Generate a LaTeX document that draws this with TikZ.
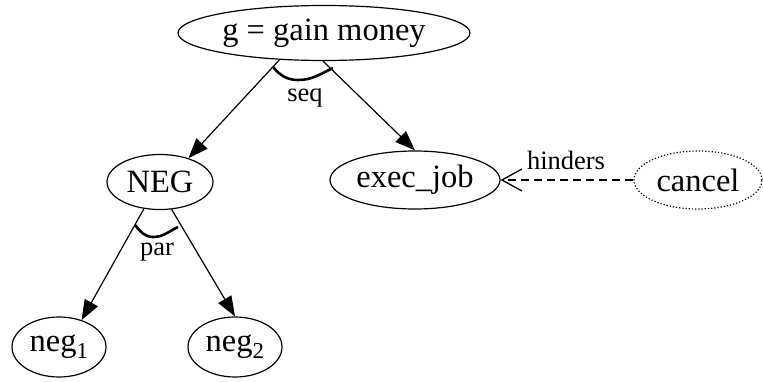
\documentclass[tikz,border=0pt]{standalone}
\usepackage{fontspec}
\setmainfont{Liberation Serif}
\usetikzlibrary{shapes.geometric,arrows.meta}
\begin{document}
\begin{tikzpicture}[x=1pt,y=-1pt,
  goal/.style={ellipse,draw,line width=1.2pt,inner sep=0pt,font=\fontsize{32.5}{32.5}\selectfont},
  lbl/.style={inner sep=0pt,font=\fontsize{26.5}{26.5}\selectfont},
  edge/.style={line width=1.2pt,-{Triangle[length=20pt,width=15pt]}},
  arcmark/.style={line width=2.6pt}]
\useasboundingbox (0,0) rectangle (763,382);
\node[goal,minimum width=292pt,minimum height=55pt] (g) at (324,33) {g = gain money};
\node[goal,minimum width=106pt,minimum height=55pt] (NEG) at (160,182) {NEG};
\node[goal,minimum width=170pt,minimum height=58pt] (exec) at (415,180) {exec\_job};
\node[goal,dotted,minimum width=128pt,minimum height=58pt] (cancel) at (698,180) {cancel};
\node[goal,minimum width=94pt,minimum height=60pt] (neg1) at (59,347) {neg\textsubscript{1}};
\node[goal,minimum width=94pt,minimum height=60pt] (neg2) at (235,347) {neg\textsubscript{2}};
\draw[edge] (g.211) -- (NEG.40);
\draw[edge] (g.268) -- (exec.north);
\draw[edge] (NEG.239) -- (neg1.50);
\draw[edge] (NEG.293) -- (neg2.north);
\draw[line width=1.2pt,dash pattern=on 8pt off 5pt,-{Straight Barb[length=20pt,width=22pt,line width=1.3pt]}] (cancel.west) -- (exec.east);
\draw[arcmark] (273,67) to[out=-50,in=180] (298,80) to[out=0,in=-155] (333,68);
\draw[arcmark] (135,225) to[out=-50,in=180] (153,237) to[out=0,in=-155] (178,227);
\node[lbl] (seq) at (305,98) {seq};
\node[lbl] (par) at (157,252) {par};
\node[lbl] (hind) at (566,160) {hinders};
\end{tikzpicture}
\end{document}
